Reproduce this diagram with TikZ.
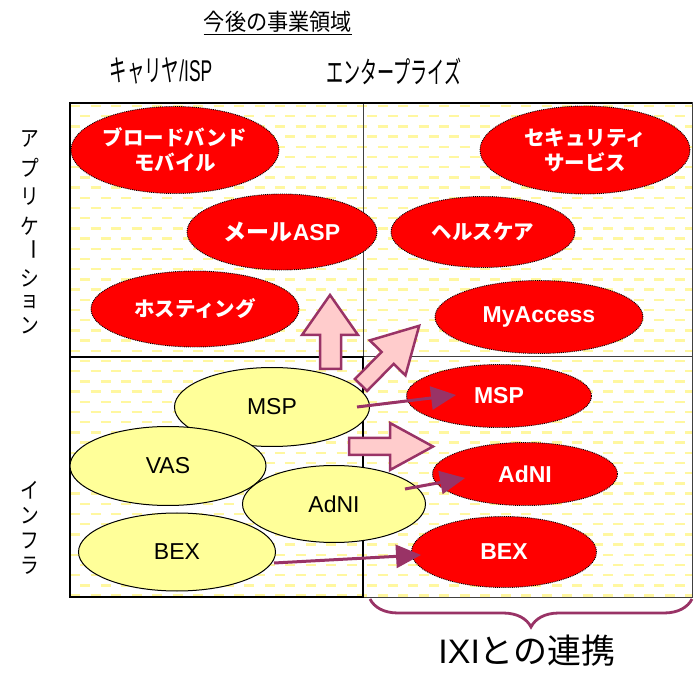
\documentclass[tikz,border=0pt]{standalone}
\usepackage{fontspec}
\usepackage{graphicx}
\setmainfont{Liberation Sans}
\newfontfamily\jp{Noto Sans CJK JP}
\usetikzlibrary{shapes.geometric,arrows.meta,decorations.pathreplacing}
\definecolor{plum}{RGB}{153,51,102}
\definecolor{pinkfill}{RGB}{255,204,204}
\definecolor{lemon}{RGB}{255,255,153}
\definecolor{dashy}{RGB}{255,247,160}
\tikzset{
  redell/.style={ellipse, fill=red, draw=black, densely dotted, line width=0.9pt, inner sep=0pt, text=white, align=center, font=\bfseries\fontsize{23}{25}\selectfont},
  redjp/.style={redell, font=\jp\bfseries\fontsize{20.5}{25}\selectfont},
  yelell/.style={ellipse, fill=lemon, draw=black, line width=1pt, inner sep=0pt, font=\fontsize{23}{25}\selectfont},
  blockarrow/.style={fill=pinkfill, draw=plum, line width=2.5pt, line join=miter},
  conn/.style={draw=plum, line width=3pt, -{Triangle[length=25pt,width=23pt]}},
  vchar/.style={inner sep=0pt, font=\jp\fontsize{22}{22}\selectfont},
  header/.style={inner sep=0pt, font=\fontsize{30}{30}\selectfont}
}
\begin{document}
\begin{tikzpicture}[x=1pt,y=-1pt]
\useasboundingbox (0,0) rectangle (697,676);
\fill[white] (0,0) rectangle (697,676);
% background dash pattern
\begin{scope}
\clip (70,103) rectangle (692,597);
\foreach \i in {0,...,48}{
  \pgfmathsetmacro\yy{106+10.2*\i}
  \pgfmathsetmacro\ph{mod(\i,2)*10.25}
  \draw[dashy, line width=2.5pt, dash pattern=on 10pt off 10.5pt, dash phase=\ph pt] (70,\yy) -- (692,\yy);
}
\end{scope}
% grid
\draw[black!75, line width=1pt] (70,103) rectangle (692,597);
\draw[black!75, line width=1pt] (363,103) -- (363,597);
\draw[black!75, line width=1pt] (70,357) -- (692,357);
\draw[black, line width=1.6pt] (70,357) rectangle (363,597);
\draw[black, line width=1.6pt] (70,357) -- (70,103) -- (692,103);

% titles
\node[inner sep=0pt, font=\jp\fontsize{23}{23}\selectfont] (title) at (278,22) {\scalebox{0.92}[1]{今後の事業領域}};
\draw[black, line width=1pt] ([yshift=-2pt]title.south west) -- ([yshift=-2pt]title.south east);
\node[header] (hcar) at (161,71) {\scalebox{0.58}[1]{{\jp キャリヤ}/ISP}};
\node[header] (hent) at (394,71) {\scalebox{0.57}[1]{\jp エンタープライズ}};

% vertical labels
\node[vchar] (va1) at (30,139) {\scalebox{0.85}[1]{ア}};
\node[vchar] (va2) at (30,168) {\scalebox{0.85}[1]{プ}};
\node[vchar] (va3) at (30,197) {\scalebox{0.85}[1]{リ}};
\node[vchar] (va4) at (30,226) {\scalebox{0.85}[1]{ケ}};
\node[vchar] (va5) at (30,250) {\rotatebox{-90}{ー}};
\node[vchar] (va6) at (30,278) {\scalebox{0.85}[1]{シ}};
\node[vchar] (va7) at (30,302) {\scalebox{0.85}[1]{ョ}};
\node[vchar] (va8) at (30,326) {\scalebox{0.85}[1]{ン}};
\node[vchar] (vi1) at (30,490) {\scalebox{0.85}[1]{イ}};
\node[vchar] (vi2) at (30,516) {\scalebox{0.85}[1]{ン}};
\node[vchar] (vi3) at (30,541) {\scalebox{0.85}[1]{フ}};
\node[vchar] (vi4) at (30,566) {\scalebox{0.85}[1]{ラ}};

% application ellipses
\node[redjp, minimum width=208pt, minimum height=87pt] (bb) at (175,150) {ブロードバンド\\モバイル};
\node[redell, minimum width=190pt, minimum height=76pt] (mail) at (282,232) {{\jp メール}ASP};
\node[redjp, minimum width=208pt, minimum height=76pt] (host) at (195,309) {ホスティング};
\node[redjp, minimum width=210pt, minimum height=88pt] (sec) at (585,150) {セキュリティ\\サービス};
\node[redjp, minimum width=184pt, minimum height=71pt] (hc) at (483,232) {ヘルスケア};
\node[redell, minimum width=208pt, minimum height=73pt] (myacc) at (539,317) {MyAccess};

% infrastructure ellipses (enterprise)
\node[redell, minimum width=185pt, minimum height=63pt] (rmsp) at (499,396) {MSP};
\node[redell, minimum width=185pt, minimum height=63pt] (radni) at (525,474) {AdNI};
\node[redell, minimum width=185pt, minimum height=71pt] (rbex) at (504,552) {BEX};

% infrastructure ellipses (carrier)
\node[yelell, minimum width=195pt, minimum height=79pt] (ymsp) at (272,407) {MSP};
\node[yelell, minimum width=196pt, minimum height=79pt] (yvas) at (168,466) {VAS};
\node[yelell, minimum width=197pt, minimum height=78pt] (ybex) at (177,552) {BEX};
\node[yelell, minimum width=183pt, minimum height=77pt] (yadni) at (334,504) {AdNI};

% block arrows
\draw[blockarrow] (320,369) -- (320,335) -- (302,335) -- (330,295) -- (358,335) -- (341,335) -- (341,369) -- cycle;
\draw[blockarrow] (349,438) -- (390,438) -- (390,423) -- (433,446.5) -- (390,470) -- (390,455) -- (349,455) -- cycle;
\begin{scope}[shift={(361,385)}, rotate=45.5]
\draw[blockarrow] (0,-8.5) -- (38,-8.5) -- (38,-25) -- (83,0) -- (38,25) -- (38,8.5) -- (0,8.5) -- cycle;
\end{scope}

% connectors
\draw[conn] ([xshift=-13pt]ymsp.east) -- ([shift={(50,-1)}]rmsp.west);
\draw[conn] ([shift={(-21,-15)}]yadni.east) -- ([shift={(33,4)}]radni.west);
\draw[conn] ([shift={(-2,11)}]ybex.east) -- ([shift={(10,3)}]rbex.west);

% brace
\coordinate (brl) at (370,599);
\coordinate (brr) at (692,599);
\draw[plum, line width=2.8pt, decorate, decoration={brace, mirror, amplitude=28pt}] (brl) -- (brr);
\node[inner sep=0pt, font=\fontsize{34}{34}\selectfont] (ixi) at (527,651) {IXI{\jp との連携}};
\end{tikzpicture}
\end{document}
